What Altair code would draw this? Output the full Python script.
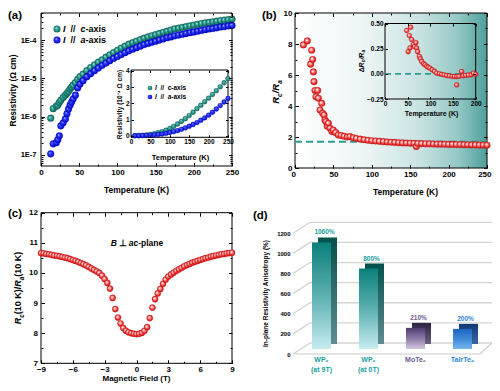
import altair as alt
import pandas as pd

FONT = "Liberation Sans"
W, H = 484, 375
M = 8


def cx(p):
    return p - M


cy = cx

# ---------------- data ----------------
# (a) main: temperature (K) and resistivity (ohm cm)
T_A = [12.7, 16, 20, 22, 24, 26, 29, 32, 34, 36, 38, 40, 42, 45, 48, 51, 55, 60, 65, 70,
       75, 80, 85, 90, 95, 100, 105, 110, 115, 120, 125, 130, 135, 140, 145, 150, 155, 160,
       165, 170, 175, 180, 185, 190, 195, 200, 205, 210, 215, 220, 225, 230, 235, 240, 245, 250]
RHO_C = [9.12e-7, 1.62e-6, 1.86e-6, 2.0e-6, 2.34e-6, 2.69e-6, 3.16e-6, 3.63e-6, 4.07e-6, 4.57e-6,
         5.25e-6, 5.89e-6, 6.61e-6, 7.76e-6, 9.33e-6, 1.10e-5, 1.29e-5, 1.58e-5, 1.91e-5, 2.24e-5,
         2.63e-5, 3.02e-5, 3.55e-5, 4.07e-5, 4.68e-5, 5.37e-5, 6.17e-5, 6.92e-5, 7.76e-5, 8.51e-5,
         9.33e-5, 1.02e-4, 1.12e-4, 1.20e-4, 1.29e-4, 1.38e-4, 1.48e-4, 1.58e-4, 1.70e-4, 1.82e-4,
         1.95e-4, 2.04e-4, 2.14e-4, 2.24e-4, 2.34e-4, 2.45e-4, 2.57e-4, 2.69e-4, 2.79e-4, 2.88e-4,
         2.99e-4, 3.09e-4, 3.20e-4, 3.31e-4, 3.39e-4, 3.51e-4]
RHO_A = [1.07e-7, 1.95e-7, 2.09e-7, 2.51e-7, 3.16e-7, 5.75e-7, 6.92e-7, 8.71e-7, 1.20e-6, 1.58e-6,
         2.0e-6, 2.40e-6, 2.88e-6, 3.63e-6, 5.62e-6, 7.08e-6, 8.71e-6, 1.10e-5, 1.32e-5, 1.58e-5,
         1.86e-5, 2.19e-5, 2.51e-5, 2.88e-5, 3.31e-5, 3.72e-5, 4.17e-5, 4.68e-5, 5.25e-5, 5.75e-5,
         6.31e-5, 6.92e-5, 7.59e-5, 8.13e-5, 8.71e-5, 9.33e-5, 1.0e-4, 1.07e-4, 1.15e-4, 1.20e-4,
         1.29e-4, 1.35e-4, 1.41e-4, 1.48e-4, 1.55e-4, 1.62e-4, 1.70e-4, 1.78e-4, 1.86e-4, 1.95e-4,
         2.0e-4, 2.09e-4, 2.19e-4, 2.24e-4, 2.34e-4, 2.40e-4]

# (a) inset: resistivity in 1e-4 ohm cm
T_AI = [10, 20, 30, 40, 50, 60, 70, 80, 90, 100, 110, 120, 130, 140, 150, 160, 170, 180,
        190, 200, 210, 220, 230, 240, 250]
RHO_C_I = [0.0, 0.01, 0.02, 0.05, 0.08, 0.12, 0.18, 0.25, 0.34, 0.45, 0.57, 0.72, 0.88, 1.05,
           1.24, 1.45, 1.67, 1.88, 2.1, 2.32, 2.55, 2.78, 3.02, 3.27, 3.52]
RHO_A_I = [0.0, 0.0, 0.01, 0.02, 0.03, 0.05, 0.07, 0.1, 0.14, 0.2, 0.25, 0.31, 0.39, 0.48,
           0.58, 0.69, 0.81, 0.95, 1.1, 1.27, 1.45, 1.65, 1.86, 2.08, 2.3]

# (b) main: Rc/Ra vs T
T_B = [10.9, 16.0, 20.4, 21.7, 23.0, 23.9, 24.7, 26.0, 27.3, 29.5, 30.4, 32.6, 34.7, 36.0,
       37.8, 39.0, 40.4, 42.0, 43.4, 45.6, 48.0, 49.9, 53.0, 56.4, 60, 64, 68, 71.6, 76, 80,
       85, 90, 95, 100, 105, 110, 115, 120, 125, 130, 135, 140, 145, 150, 155, 158, 160, 165,
       170, 175, 180, 185, 190, 195, 200, 205, 210, 215, 220, 225, 230, 235, 240, 245, 250]
RATIO_B = [7.94, 8.20, 6.70, 7.60, 7.00, 6.20, 5.57, 5.00, 4.60, 5.00, 4.50, 3.74, 4.17, 3.53,
           3.42, 3.10, 2.99, 2.70, 2.88, 2.56, 2.35, 2.45, 2.28, 2.13, 2.10, 2.05, 2.00, 2.02,
           1.95, 1.90, 1.86, 1.82, 1.79, 1.76, 1.74, 1.72, 1.70, 1.68, 1.66, 1.65, 1.63, 1.62,
           1.61, 1.60, 1.59, 1.38, 1.58, 1.57, 1.56, 1.56, 1.55, 1.54, 1.54, 1.53, 1.52, 1.52,
           1.51, 1.51, 1.50, 1.50, 1.49, 1.49, 1.48, 1.48, 1.47]
BASE_B = 1.7

# (b) inset: delta Rc/Ra vs T
T_BI = [47.8, 51, 53.6, 55, 56.6, 58.9, 62.4, 65, 68.3, 69.9, 72, 75.8, 78, 81, 85, 88.2, 92,
        95, 99, 104, 109, 114, 120, 125, 130, 136, 142, 148, 153, 158, 158.5, 163, 169, 172,
        178, 184, 190, 195, 200]
DR_BI = [0.43, 0.22, 0.38, 0.257, 0.463, 0.34, 0.29, 0.27, 0.31, 0.257, 0.22, 0.173, 0.15,
         0.123, 0.10, 0.09, 0.075, 0.065, 0.057, 0.04, 0.025, 0.007, 0.0, -0.005, -0.01,
         -0.017, -0.02, -0.025, -0.027, -0.11, -0.027, -0.025, 0.023, -0.02, -0.015, -0.012,
         -0.01, 0.007, -0.005]

# (c) Rc(10K)/Ra(10K) vs magnetic field
B_C = [-9.0, -8.75, -8.5, -8.25, -8.0, -7.75, -7.5, -7.25, -7.0, -6.75, -6.5, -6.25, -6.0,
       -5.75, -5.5, -5.25, -5.0, -4.75, -4.5, -4.25, -4.0, -3.75, -3.5, -3.25, -3.0, -2.75,
       -2.5, -2.25, -2.0, -1.75, -1.5, -1.25, -1.0, -0.75, -0.5, -0.25, 0.0, 0.25, 0.5, 0.75,
       1.0, 1.25, 1.5, 1.75, 2.0, 2.25, 2.5, 2.75, 3.0, 3.25, 3.5, 3.75, 4.0, 4.25, 4.5, 4.75,
       5.0, 5.25, 5.5, 5.75, 6.0, 6.25, 6.5, 6.75, 7.0, 7.25, 7.5, 7.75, 8.0, 8.25, 8.5, 8.75, 9.0]
RATIO_C = [10.66, 10.65, 10.63, 10.62, 10.60, 10.58, 10.57, 10.55, 10.53, 10.51, 10.49, 10.46,
           10.43, 10.40, 10.37, 10.33, 10.29, 10.25, 10.20, 10.15, 10.10, 10.05, 10.00, 9.91,
           9.80, 9.67, 9.48, 9.17, 8.80, 8.52, 8.32, 8.17, 8.08, 8.03, 8.00, 7.98, 7.97, 7.98,
           8.01, 8.08, 8.20, 8.50, 8.85, 9.13, 9.32, 9.47, 9.64, 9.78, 9.88, 9.95, 10.01, 10.07,
           10.12, 10.17, 10.22, 10.26, 10.30, 10.34, 10.37, 10.40, 10.43, 10.46, 10.49, 10.51,
           10.54, 10.56, 10.58, 10.60, 10.62, 10.63, 10.65, 10.66, 10.67]

# (d) in-plane resistivity anisotropy (%)
CATS = ["WP2 (at 9T)", "WP2 (at 0T)", "MoTe2", "TaIrTe4"]
VALS = [1060, 800, 210, 200]
PCT = ["1060%", "800%", "210%", "200%"]
LINE1 = ["WP\u2082", "WP\u2082", "MoTe\u2082", "TaIrTe\u2084"]
LINE2 = ["(at 9T)", "(at 0T)", "", ""]
LABEL_COLORS = ["#18a0a0", "#18a0a0", "#6d5a92", "#2a86d8"]
GRID_D = [0, 200, 400, 600, 800, 1000, 1200]

# tick values
TX_250 = [0, 50, 100, 150, 200, 250]
TX_250_MINOR = [25, 75, 125, 175, 225]
TY_A = [1e-7, 1e-6, 1e-5, 1e-4]
TY_A_MINOR = [6e-8, 7e-8, 8e-8, 9e-8, 2e-7, 3e-7, 4e-7, 5e-7, 6e-7, 7e-7, 8e-7, 9e-7,
              2e-6, 3e-6, 4e-6, 5e-6, 6e-6, 7e-6, 8e-6, 9e-6, 2e-5, 3e-5, 4e-5, 5e-5,
              6e-5, 7e-5, 8e-5, 9e-5, 2e-4, 3e-4, 4e-4, 5e-4]
TY_B = [0, 2, 4, 6, 8, 10]
TY_B_MINOR = [1, 3, 5, 7, 9]
TX_C = [-9, -6, -3, 0, 3, 6, 9]
TX_C_MINOR = [-7.5, -4.5, -1.5, 1.5, 4.5, 7.5]
TY_C = [7, 8, 9, 10, 11, 12]
TY_C_MINOR = [7.5, 8.5, 9.5, 10.5, 11.5]
TX_AI = [0, 50, 100, 150, 200, 250]
TY_AI = [0, 1, 2, 3, 4]
TX_BI = [0, 50, 100, 150, 200]
TY_BI = [-0.25, 0, 0.25, 0.5]


# ---------------- helpers ----------------
def stops(*pairs):
    return [alt.GradientStop(offset=o, color=c) for o, c in pairs]


def radial(*pairs):
    return alt.Gradient(gradient="radial", stops=stops(*pairs),
                        x1=0.38, y1=0.35, r1=0, x2=0.5, y2=0.5, r2=0.55)


def vlin(*pairs):
    return alt.Gradient(gradient="linear", stops=stops(*pairs), x1=0, y1=0, x2=0, y2=1)


def hlin(*pairs):
    return alt.Gradient(gradient="linear", stops=stops(*pairs), x1=0, y1=0, x2=1, y2=0)


TEAL_S = radial((0, "#e2f6f2"), (0.3, "#3fae9f"), (0.8, "#137a6e"), (1, "#0b554d"))
BLUE_S = radial((0, "#d6dcff"), (0.3, "#3440ff"), (0.8, "#0a12e0"), (1, "#0006a0"))
RED_S = radial((0, "#ffffff"), (0.3, "#ffb4b4"), (0.65, "#f03030"), (1, "#c41212"))

# approximate advance widths (em) of Liberation Sans Bold
WID = {"R": 0.722, "K": 0.722, "B": 0.722, "I": 0.278, "/": 0.278, "(": 0.333, ")": 0.333,
       " ": 0.278, "-": 0.333, "i": 0.278, "l": 0.278, "p": 0.611, "n": 0.611,
       "\u0394": 0.68, "\u22a5": 0.84, "t": 0.333}


def tw(s, size):
    return sum(WID.get(ch, 0.556) for ch in s) * size


def rich(pieces, x, y, base, angle=0, align="center"):
    """Text made of pieces (text, size, italic, baseline shift) around a visual centre.
    Pieces made only of spaces just advance the pen."""
    total = sum(tw(t, s) for t, s, _, _ in pieces)
    pos = -total / 2 if align == "center" else 0
    out = []
    for t, s, it, sh in pieces:
        if t.strip():
            kw = dict(font=FONT, fontSize=s, fontWeight="bold",
                      fontStyle="italic" if it else "normal", align="left",
                      baseline="alphabetic", dx=pos, dy=0.36 * base + sh, color="black")
            if angle:
                kw["angle"] = angle
            out.append(alt.Chart(pd.DataFrame({"t": [t]})).mark_text(**kw).encode(
                text="t:N", x=alt.value(x), y=alt.value(y)))
        pos += tw(t, s)
    return out


def make_axis(orient, offset, values, title, tx, ty, lsize=8, tsize=8.5, expr=None,
              pad=1.0, fmt=None, flush=False):
    kw = dict(orient=orient, offset=offset, values=values, domain=False, grid=False,
              ticks=False, labelFont=FONT, labelFontSize=lsize, labelFontWeight="bold",
              labelColor="black", labelPadding=pad, labelFlush=flush, labelOverlap=False,
              title=title, zindex=1)
    if title:
        kw.update(titleFont=FONT, titleFontSize=tsize, titleFontWeight="bold",
                  titleColor="black", titleX=tx, titleY=ty, titleAlign="center",
                  titleBaseline="middle")
        if orient == "left":
            kw["titleAngle"] = 270
    if flush:
        kw["labelFlushOffset"] = 4
    if expr:
        kw["labelExpr"] = expr
    if fmt:
        kw["format"] = fmt
    return alt.Axis(**kw)


def tick_axis(orient, offset, values, size):
    return alt.Axis(orient=orient, offset=offset, values=values, labels=False, domain=False,
                    grid=False, ticks=True, tickSize=size, tickColor="black", tickWidth=1,
                    title="", zindex=1)


def inward_ticks(xs, ys, xvals, yvals, edges, size):
    """Two invisible layers whose axes draw inward ticks on all four frame edges."""
    L, R, T, B = edges
    df = pd.DataFrame({"tx": [xvals[0]], "ty": [yvals[0]]})
    l1 = alt.Chart(df).mark_point(opacity=0).encode(
        x=alt.X("tx:Q", scale=xs, axis=tick_axis("top", -B, xvals, size)),
        y=alt.Y("ty:Q", scale=ys, axis=tick_axis("right", L - W, yvals, size)))
    l2 = alt.Chart(df).mark_point(opacity=0).encode(
        x=alt.X("tx:Q", scale=xs, axis=tick_axis("bottom", T - H, xvals, size)),
        y=alt.Y("ty:Q", scale=ys, axis=tick_axis("left", -R, yvals, size)))
    return [l1, l2]


def frame(xd, yd, X, Y, fill=None):
    df = pd.DataFrame({"fx0": [xd[0]], "fx1": [xd[1]], "fy0": [yd[0]], "fy1": [yd[1]]})
    if fill is None:
        m = alt.Chart(df).mark_rect(fillOpacity=0, stroke="black", strokeWidth=1)
    else:
        m = alt.Chart(df).mark_rect(fill=fill, strokeWidth=0)
    return m.encode(x=alt.X("fx0:Q", **X), x2="fx1:Q", y=alt.Y("fy0:Q", **Y), y2="fy1:Q")


def label(text, x, y, size=11, color="black", align="left"):
    df = pd.DataFrame({"t": [text]})
    return alt.Chart(df).mark_text(font=FONT, fontSize=size, fontWeight="bold", color=color,
                                   align=align, baseline="middle").encode(
        text="t:N", x=alt.value(x), y=alt.value(y))


def dots(df, xf, yf, X, Y, fill, size, stroke):
    return alt.Chart(df).mark_circle(fill=fill, size=size, opacity=1, stroke=stroke,
                                     strokeWidth=0.35).encode(
        x=alt.X(xf + ":Q", **X), y=alt.Y(yf + ":Q", **Y))


extra = []  # tick layers
rich_layers = []

# ---------------- panel (a) ----------------
EA = (cx(41), cx(232), cy(13), cy(166))
XA_D, YA_D = [0, 250], [5.16e-8, 5.07e-4]
XA_S = alt.Scale(domain=XA_D, range=[EA[0], EA[1]], nice=False, zero=False)
YA_S = alt.Scale(type="log", domain=YA_D, range=[EA[3], EA[2]], nice=False)
XA = dict(scale=XA_S, axis=make_axis("bottom", EA[3] - H, TX_250, "Temperature (K)",
                                     cx(136), 23, pad=2.5))
YA = dict(scale=YA_S, axis=make_axis("left", -EA[0], TY_A, "Resistivity (\u03a9 cm)",
                                     4 - EA[0], cy(90),
                                     expr="'1E' + round(log(datum.value)/LN10)",
                                     lsize=7.5, pad=5))
extra += inward_ticks(XA_S, YA_S, TX_250, TY_A, EA, 3.5)
extra += inward_ticks(XA_S, YA_S, TX_250_MINOR, TY_A_MINOR, EA, 2)
dfa_c = pd.DataFrame({"T": T_A, "rho": RHO_C})
dfa_a = pd.DataFrame({"T": T_A, "rho": RHO_A})
panel_a = alt.layer(
    frame(XA_D, YA_D, XA, YA),
    dots(dfa_c, "T", "rho", XA, YA, TEAL_S, 46, "#0b554d"),
    dots(dfa_a, "T", "rho", XA, YA, BLUE_S, 46, "#0006a0"),
)

EAI = (cx(131), cx(228), cy(70), cy(137.3))
XAI_D, YAI_D = [0, 250], [-0.1, 4.06]
XAI_S = alt.Scale(domain=XAI_D, range=[EAI[0], EAI[1]], nice=False, zero=False)
YAI_S = alt.Scale(domain=YAI_D, range=[EAI[3], EAI[2]], nice=False, zero=False)
XAI = dict(scale=XAI_S, axis=make_axis("bottom", EAI[3] - H, TX_AI, "Temperature (K)",
                                       cx(180), 20.5, lsize=6.5, tsize=7.5, pad=1))
YAI = dict(scale=YAI_S, axis=make_axis("left", -EAI[0], TY_AI,
                                       "Resistivity (10\u207b\u2074 \u03a9 cm)",
                                       cx(119) - EAI[0], cy(104), lsize=6.5, tsize=6.5,
                                       pad=2))
extra += inward_ticks(XAI_S, YAI_S, TX_AI, TY_AI, EAI, 2.5)
dfai_c = pd.DataFrame({"T": T_AI, "rho": RHO_C_I})
dfai_a = pd.DataFrame({"T": T_AI, "rho": RHO_A_I})
inset_a = alt.layer(
    frame(XAI_D, YAI_D, XAI, YAI, fill="white"),
    frame(XAI_D, YAI_D, XAI, YAI),
    dots(dfai_c, "T", "rho", XAI, YAI, TEAL_S, 24, "#0b554d"),
    dots(dfai_a, "T", "rho", XAI, YAI, BLUE_S, 24, "#0006a0"),
)


def legend_dot(x, y, fill, size):
    df = pd.DataFrame({"k": [0]})
    return alt.Chart(df).mark_circle(fill=fill, size=size, opacity=1).encode(
        x=alt.value(x), y=alt.value(y))


legend_a = alt.layer(
    legend_dot(cx(57), cy(29), TEAL_S, 50), legend_dot(cx(57), cy(40), BLUE_S, 50),
    legend_dot(cx(150), cy(88), TEAL_S, 22), legend_dot(cx(150), cy(97), BLUE_S, 22),
)
for yy, ax_name in ((29, "c"), (40, "a")):
    rich_layers += rich([("I", 9, True, 0), ("  ", 9, False, 0), ("//", 9, False, 0),
                         ("  ", 9, False, 0), (ax_name, 9, True, 0), ("-axis", 9, False, 0)],
                        cx(63), cy(yy), 9, align="left")
for yy, ax_name in ((88, "c"), (97, "a")):
    rich_layers += rich([("I", 6.5, True, 0), ("  ", 6.5, False, 0), ("//", 6.5, False, 0),
                         ("  ", 6.5, False, 0), (ax_name, 6.5, True, 0),
                         ("-axis", 6.5, False, 0)], cx(155), cy(yy), 6.5, align="left")

# ---------------- panel (b) ----------------
EB = (cx(295), cx(487), cy(13), cy(168))
XB_D, YB_D = [0, 250], [0, 10]
XB_S = alt.Scale(domain=XB_D, range=[EB[0], EB[1]], nice=False, zero=False)
YB_S = alt.Scale(domain=YB_D, range=[EB[3], EB[2]], nice=False, zero=False)
XB = dict(scale=XB_S, axis=make_axis("bottom", EB[3] - H, TX_250, "Temperature (K)",
                                     cx(405), 23, pad=2.5, flush=True))
YB = dict(scale=YB_S, axis=make_axis("left", -EB[0], TY_B, "", 0, 0, pad=3))
rich_layers += rich([("R", 9.5, True, 0), ("c", 6.5, True, 2.5), ("/R", 9.5, True, 0),
                     ("a", 6.5, True, 2.5)], cx(276), cy(92), 9.5, angle=270)
extra += inward_ticks(XB_S, YB_S, TX_250, TY_B, EB, 3.5)
extra += inward_ticks(XB_S, YB_S, TX_250_MINOR, TY_B_MINOR, EB, 2)
dfb = pd.DataFrame({"T": T_B, "r": RATIO_B})
dfb_base = pd.DataFrame({"bx0": [0], "bx1": [250], "by": [BASE_B]})
BG_B = hlin((0, "#ffffff"), (0.35, "#eef6f6"), (0.65, "#c9e3e2"), (0.85, "#93c8c5"),
            (1, "#4f9f9b"))
panel_b = alt.layer(
    frame(XB_D, YB_D, XB, YB, fill=BG_B),
    frame(XB_D, YB_D, XB, YB),
    alt.Chart(dfb_base).mark_rule(color="#2f9c98", strokeWidth=2, strokeDash=[7, 4]).encode(
        x=alt.X("bx0:Q", **XB), x2="bx1:Q", y=alt.Y("by:Q", **YB)),
    dots(dfb, "T", "r", XB, YB, RED_S, 44, "#b01010"),
)

EBI = (cx(385), cx(475.7), cy(23.5), cy(99))
XBI_D, YBI_D = [0, 200], [-0.25, 0.5]
XBI_S = alt.Scale(domain=XBI_D, range=[EBI[0], EBI[1]], nice=False, zero=False)
YBI_S = alt.Scale(domain=YBI_D, range=[EBI[3], EBI[2]], nice=False, zero=False)
XBI = dict(scale=XBI_S, axis=make_axis("bottom", EBI[3] - H, TX_BI, "Temperature (K)",
                                       cx(431), 14.5, lsize=6.5, tsize=7, pad=1.2))
YBI = dict(scale=YBI_S, axis=make_axis("left", -EBI[0], TY_BI, "", 0, 0, lsize=6.5, pad=2,
                                       fmt=".2f"))
rich_layers += rich([("\u0394", 7, False, 0), ("R", 7, True, 0), ("c", 5, True, 1.8),
                     ("/R", 7, True, 0), ("a", 5, True, 1.8)], cx(361), cy(61), 7, angle=270)
extra += inward_ticks(XBI_S, YBI_S, TX_BI, TY_BI, EBI, 2.5)
dfbi = pd.DataFrame({"T": T_BI, "d": DR_BI})
dfbi_base = pd.DataFrame({"bx0": [0], "bx1": [200], "by": [0.0]})
inset_b = alt.layer(
    frame(XBI_D, YBI_D, XBI, YBI),
    alt.Chart(dfbi_base).mark_rule(color="#2f9c98", strokeWidth=1.6, strokeDash=[6, 4]).encode(
        x=alt.X("bx0:Q", **XBI), x2="bx1:Q", y=alt.Y("by:Q", **YBI)),
    dots(dfbi, "T", "d", XBI, YBI, RED_S, 24, "#b01010"),
)

# ---------------- panel (c) ----------------
EC = (cx(41), cx(232), cy(212.7), cy(363.3))
XC_D, YC_D = [-9, 9], [7, 12]
XC_S = alt.Scale(domain=XC_D, range=[EC[0], EC[1]], nice=False, zero=False)
YC_S = alt.Scale(domain=YC_D, range=[EC[3], EC[2]], nice=False, zero=False)
XC = dict(scale=XC_S, axis=make_axis("bottom", EC[3] - H, TX_C, "Magnetic Field (T)",
                                     cx(136), 15, tsize=8, pad=2.2))
YC = dict(scale=YC_S, axis=make_axis("left", -EC[0], TY_C, "", 0, 0, pad=3.5))
rich_layers += rich([("R", 9, True, 0), ("c", 6.5, True, 2.3), ("(10 K)/", 9, False, 0),
                     ("R", 9, True, 0), ("a", 6.5, True, 2.3), ("(10 K)", 9, False, 0)],
                    cx(18), cy(288), 9, angle=270)
extra += inward_ticks(XC_S, YC_S, TX_C, TY_C, EC, 3.5)
extra += inward_ticks(XC_S, YC_S, TX_C_MINOR, TY_C_MINOR, EC, 2)
dfc = pd.DataFrame({"B": B_C, "r": RATIO_C})
panel_c = alt.layer(
    frame(XC_D, YC_D, XC, YC),
    dots(dfc, "B", "r", XC, YC, RED_S, 38, "#b01010"),
)
rich_layers += rich([("B", 8.5, True, 0), (" ", 8.5, False, 0), ("\u22a5", 8.5, False, 0),
                     (" ", 8.5, False, 0), ("ac", 8.5, True, 0), ("-plane", 8.5, False, 0)],
                    cx(137), cy(243), 8.5)

# ---------------- panel (d) ----------------
XD = dict(scale=alt.Scale(domain=CATS, range=[cx(298), cx(486)], paddingInner=0,
                          paddingOuter=0), axis=None)
YD = dict(scale=alt.Scale(domain=[0, 1200], range=[cy(354), cy(233.3)], nice=False, zero=False),
          axis=make_axis("left", -cx(292), GRID_D, "In-plane Resistivity Anisotropy (%)",
                         cx(265) - cx(292), cy(293), lsize=6, tsize=6.5, pad=2, fmt="d"))
dfd = pd.DataFrame({"cat": CATS, "val": VALS, "zero": [0] * 4, "pct": PCT, "l1": LINE1,
                    "l2": LINE2, "col": LABEL_COLORS})
dfg = pd.DataFrame({"v": GRID_D})
dff = pd.DataFrame({"v": [0]})

FRONT = [
    vlin((0, "#0a7f79"), (0.5, "#5cb0b0"), (1, "#c6ecf1")),
    vlin((0, "#0a7f79"), (0.5, "#5cb0b0"), (1, "#c6ecf1")),
    vlin((0, "#4d3b6e"), (0.5, "#8c7aa8"), (1, "#d3c8e3")),
    vlin((0, "#1d64c0"), (0.5, "#3f8ad8"), (1, "#78b6f0")),
]
SIDE = [
    vlin((0, "#04504b"), (1, "#5f8c90")),
    vlin((0, "#04504b"), (1, "#5f8c90")),
    vlin((0, "#2c2244"), (1, "#6a6080")),
    vlin((0, "#0e3b78"), (1, "#3a66a0")),
]

d_layers = [
    alt.Chart(dfg).mark_rule(color="#d4d4d4", strokeWidth=1.3, y2Offset=-11).encode(
        x=alt.value(cx(293)), x2=alt.value(cx(310)), y=alt.Y("v:Q", **YD), y2="v:Q"),
    alt.Chart(dfg).mark_rule(color="#d4d4d4", strokeWidth=1.3, yOffset=-11).encode(
        x=alt.value(cx(310)), x2=alt.value(W), y=alt.Y("v:Q", **YD)),
    alt.Chart(dff).mark_rule(color="#cccccc", strokeWidth=1.2).encode(
        x=alt.value(cx(295)), x2=alt.value(cx(480)), y=alt.Y("v:Q", **YD)),
    alt.Chart(dff).mark_rule(color="#cccccc", strokeWidth=1.2, y2Offset=-11).encode(
        x=alt.value(cx(480)), x2=alt.value(cx(492)), y=alt.Y("v:Q", **YD), y2="v:Q"),
]
for i, c in enumerate(CATS):
    base = alt.Chart(dfd).transform_filter(alt.datum.cat == c)
    d_layers.append(base.mark_bar(fill=SIDE[i], size=19, xOffset=6, x2Offset=6, yOffset=-10,
                                  y2Offset=-10).encode(
        x=alt.X("cat:N", **XD), y=alt.Y("val:Q", **YD), y2="zero:Q"))
    d_layers.append(base.mark_bar(fill=FRONT[i], size=19, yOffset=-5, y2Offset=-5).encode(
        x=alt.X("cat:N", **XD), y=alt.Y("val:Q", **YD), y2="zero:Q"))

d_layers += [
    alt.Chart(dfd).mark_text(font=FONT, fontSize=6.5, fontWeight="bold", dy=-15, dx=3).encode(
        x=alt.X("cat:N", **XD), y=alt.Y("val:Q", **YD), text="pct:N",
        color=alt.Color("col:N", scale=None)),
    alt.Chart(dfd).mark_text(font=FONT, fontSize=7, fontWeight="bold").encode(
        x=alt.X("cat:N", **XD), y=alt.value(cy(360)), text="l1:N",
        color=alt.Color("col:N", scale=None)),
    alt.Chart(dfd).mark_text(font=FONT, fontSize=7, fontWeight="bold").encode(
        x=alt.X("cat:N", **XD), y=alt.value(cy(369.5)), text="l2:N",
        color=alt.Color("col:N", scale=None)),
]
panel_d = alt.layer(*d_layers)

texts = alt.layer(
    label("(a)", 0, cy(16), size=11.5),
    label("(b)", cx(262), cy(16), size=11.5),
    label("(c)", 0, cy(214), size=11.5),
    label("(d)", cx(253), cy(216), size=11.5),
    *rich_layers,
)

chart = alt.layer(
    panel_a, inset_a, panel_b, inset_b, panel_c, panel_d, legend_a, texts, *extra
).resolve_scale(x="independent", y="independent").resolve_axis(
    x="independent", y="independent"
).properties(
    width=W, height=H, autosize=alt.AutoSizeParams(type="none"), padding=0,
    background="white"
).configure_view(stroke=None)

chart.save("out.html", embed_options={"renderer": "svg", "actions": False})
